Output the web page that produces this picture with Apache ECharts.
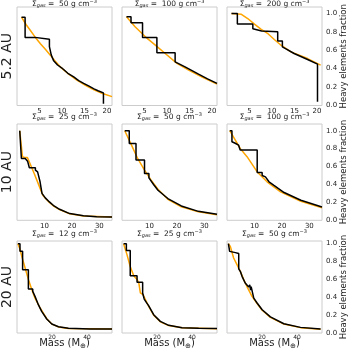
<!DOCTYPE html>
<html>
<head>
<meta charset="utf-8">
<script src="https://cdn.jsdelivr.net/npm/echarts@6/dist/echarts.min.js"></script>
<style>
  html, body { margin: 0; padding: 0; background: #fff; }
  #chart { width: 349px; height: 349px; }
</style>
</head>
<body>
<div id="chart"></div>
<script>
// rows = orbital distance, columns = gas surface density
var rowNames = ['5.2 AU', '10 AU', '20 AU'];
var sigmaGas = [[50, 100, 200], [25, 50, 100], [12, 25, 50]];
var rowXMax = [21.1, 34.6, 54.3];
var rowXStep = [5, 10, 20];
var rowYMax = [1.07, 1.075, 1.03];

// [mass, heavy elements fraction] -- black = simulation, orange = fit
var black_5_50 = [[1,0.96],[1.8,0.96],[1.8,0.74],[4.0,0.74],[4.0,0.72],[7.2,0.72],[7.2,0.64],[7.6,0.64],[7.6,0.55],[8.1,0.49],[9,0.44],[9.9,0.41],[10,0.39],[10.2,0.40],[11.3,0.35],[12.6,0.31],[13.7,0.27],[14.8,0.24],[16,0.21],[17.1,0.18],[18,0.16],[19.2,0.137],[19.2,0.02]];
var orange_5_50 = [[1,0.96],[2,0.88],[2.9,0.82],[4,0.745],[5.2,0.67],[6.3,0.61],[7.4,0.547],[8.5,0.48],[9.6,0.42],[11.5,0.34],[13.3,0.275],[15.2,0.22],[17.1,0.17],[19,0.13],[21.1,0.096]];
var black_5_100 = [[1,0.963],[2,0.963],[2,0.898],[4.56,0.898],[4.56,0.739],[7.75,0.739],[7.75,0.572],[11.8,0.572],[11.8,0.474],[14,0.42],[17,0.34],[19,0.29],[21.1,0.24]];
var orange_5_100 = [[1,0.963],[2.9,0.855],[5.2,0.746],[7.4,0.656],[9.6,0.565],[12.2,0.457],[14.8,0.384],[17.8,0.31],[21.1,0.232]];
var black_5_200 = [[1,1.0],[2.3,1.0],[2.3,0.884],[5.74,0.884],[5.74,0.833],[7.7,0.81],[11.26,0.80],[11.26,0.70],[12.3,0.70],[12.3,0.637],[12.9,0.62],[14.9,0.565],[17.9,0.50],[20.1,0.449],[20.1,0.04]];
var orange_5_200 = [[1,1.0],[3.2,0.99],[4.6,0.945],[6.1,0.884],[7.6,0.826],[9.1,0.78],[10.5,0.717],[12,0.655],[14.2,0.583],[17.9,0.51],[20.8,0.438]];

var black_10_25 = [[1,1.0],[1.6,1.0],[1.6,0.69],[3.0,0.69],[3.85,0.66],[4.5,0.66],[4.5,0.586],[6.7,0.586],[6.7,0.56],[7.5,0.54],[8.4,0.43],[9.1,0.30],[10.3,0.25],[11.8,0.205],[13.5,0.16],[15.5,0.123],[19.2,0.075],[24.2,0.05],[29,0.04],[34.6,0.037]];
var orange_10_25 = [[1,1.0],[1.5,0.85],[2,0.71],[3,0.70],[3.8,0.70],[4.5,0.65],[6.3,0.52],[8.2,0.373],[9.4,0.28],[10.5,0.24],[11.8,0.2],[13.5,0.155],[15.5,0.12],[19.2,0.072],[24.2,0.048],[34.6,0.036]];
var black_10_50 = [[1,1.0],[2.65,1.0],[2.65,0.858],[5.1,0.858],[5.1,0.672],[8.2,0.672],[8.2,0.523],[9.8,0.523],[9.8,0.474],[11.5,0.40],[13.1,0.336],[16.7,0.243],[21.6,0.16],[27.8,0.10],[34.6,0.067]];
var orange_10_50 = [[1,1.0],[3.3,0.85],[5.7,0.69],[8.2,0.56],[10.6,0.448],[13.1,0.347],[16.7,0.235],[21.6,0.15],[27.8,0.095],[34.6,0.063]];
var black_10_100 = [[1,1.0],[1.8,1.0],[1.8,0.877],[3,0.86],[4.2,0.84],[4.8,0.84],[4.8,0.784],[11,0.784],[11,0.534],[12.8,0.534],[12.8,0.50],[14,0.485],[15.3,0.43],[17.1,0.39],[20.8,0.31],[26.9,0.224],[34.6,0.149]];
var orange_10_100 = [[1,1.0],[4.85,0.80],[7.3,0.71],[11,0.54],[14.6,0.43],[19.5,0.317],[26.9,0.213],[34.6,0.14]];

var black_20_12 = [[0.5,1.0],[1.7,1.0],[1.7,0.914],[3.2,0.914],[3.2,0.709],[6.5,0.709],[6.5,0.493],[9.0,0.493],[9.0,0.466],[10.3,0.41],[12.2,0.317],[14.1,0.242],[17,0.157],[19.9,0.10],[23.7,0.07],[29.4,0.052],[41.8,0.045],[54.3,0.045]];
var orange_20_12 = [[0.5,1.0],[1.5,0.95],[2.7,0.86],[4.6,0.73],[6.5,0.6],[8.4,0.49],[10.3,0.39],[13.2,0.28],[17,0.16],[19.9,0.1],[23.7,0.068],[29.4,0.05],[54.3,0.044]];
var black_20_25 = [[0.9,1.0],[2.5,1.0],[2.5,0.925],[4.7,0.925],[4.7,0.642],[8.6,0.642],[8.6,0.567],[11.8,0.567],[11.8,0.448],[12.7,0.448],[12.7,0.38],[14,0.34],[15.2,0.306],[18.1,0.205],[21.9,0.13],[26.7,0.086],[34.3,0.06],[43.8,0.053],[54.3,0.05]];
var orange_20_25 = [[0.9,1.0],[2.8,0.88],[4.7,0.745],[6.7,0.64],[8.6,0.6],[9.6,0.56],[10.5,0.45],[12,0.43],[14,0.35],[15.2,0.3],[18.1,0.2],[21.9,0.125],[26.7,0.083],[34.3,0.058],[54.3,0.048]];
var black_20_50 = [[0.8,1.0],[1.5,1.0],[1.5,0.914],[4.8,0.9],[5.2,0.89],[6.7,0.89],[6.7,0.717],[7.6,0.69],[8.6,0.634],[10.4,0.56],[12.4,0.515],[13.0,0.54],[13.5,0.48],[13.8,0.52],[15.3,0.39],[17.2,0.336],[20.1,0.26],[24.8,0.18],[32.5,0.104],[42,0.063],[53.5,0.045]];
var orange_20_50 = [[0.8,1.0],[1.9,0.97],[3.8,0.84],[5.7,0.765],[7.6,0.69],[9.5,0.6],[11.4,0.52],[14.3,0.41],[17.2,0.33],[20.1,0.255],[24.8,0.175],[32.5,0.1],[42,0.06],[53.5,0.043]];

var blackLines = [[black_5_50, black_5_100, black_5_200], [black_10_25, black_10_50, black_10_100], [black_20_12, black_20_25, black_20_50]];
var orangeLines = [[orange_5_50, orange_5_100, orange_5_200], [orange_10_25, orange_10_50, orange_10_100], [orange_20_12, orange_20_25, orange_20_50]];

// layout in px
var colLeft = [17, 122, 227];
var colWidth = 95;
var rowTop = [7, 124, 241];
var rowHeight = [98.5, 96.3, 92];
var rowTickFont = [7, 7, 6];
var font = 'DejaVu Sans';
var ink = '#222';

var chart = echarts.init(document.getElementById('chart'));

var grids = [], xAxes = [], yAxes = [], series = [], graphics = [];

for (var r = 0; r < 3; r++) {
    for (var c = 0; c < 3; c++) {
        var idx = r * 3 + c;
        grids.push({
            left: colLeft[c], top: rowTop[r], width: colWidth, height: rowHeight[r],
            show: true, borderColor: '#cccccc', borderWidth: 1, backgroundColor: '#fff',
            containLabel: false, outerBoundsMode: 'none'
        });
        (function (step) {
            xAxes.push({
                type: 'value', gridIndex: idx, min: 0, max: rowXMax[r], interval: step,
                axisLine: { show: false }, axisTick: { show: false }, splitLine: { show: false },
                axisLabel: {
                    fontSize: rowTickFont[r], color: ink, fontFamily: font, margin: r === 2 ? 1 : 2,
                    formatter: function (v) {
                        return (v > 0 && Math.abs(v / step - Math.round(v / step)) < 1e-6) ? String(Math.round(v)) : '';
                    }
                }
            });
        })(rowXStep[r]);
        yAxes.push({
            type: 'value', gridIndex: idx, min: 0, max: rowYMax[r], interval: 0.2,
            position: c === 2 ? 'right' : 'left',
            axisLine: { show: false }, axisTick: { show: false }, splitLine: { show: false },
            axisLabel: {
                show: c === 2, fontSize: 7, color: ink, fontFamily: font, margin: 4,
                formatter: function (v) {
                    var k = Math.round(v * 5);
                    return Math.abs(v * 5 - k) < 1e-6 ? (k / 5).toFixed(1) : '';
                }
            }
        });
        series.push({
            type: 'line', xAxisIndex: idx, yAxisIndex: idx, data: orangeLines[r][c], clip: true,
            showSymbol: false, silent: true, lineStyle: { color: '#FFA500', width: 1.5 }
        });
        series.push({
            type: 'line', xAxisIndex: idx, yAxisIndex: idx, data: blackLines[r][c], clip: true,
            showSymbol: false, silent: true, lineStyle: { color: '#000', width: 1.5 }
        });

        // panel title  Σgas = N g cm^-3
        graphics.push({
            type: 'text', x: colLeft[c] + colWidth / 2, y: rowTop[r] - (r === 0 ? 3 : 7),
            style: {
                text: '{a|Σ}{s|gas}{a| =  ' + sigmaGas[r][c] + ' g cm}{p|−3}',
                align: 'center', verticalAlign: 'middle',
                rich: {
                    a: { fontSize: 7.5, fontFamily: font, fill: ink, lineHeight: 9 },
                    s: { fontSize: 5, fontFamily: font, fontStyle: 'italic', fill: ink, verticalAlign: 'bottom', lineHeight: 9 },
                    p: { fontSize: 5, fontFamily: font, fill: ink, verticalAlign: 'top', lineHeight: 9 }
                }
            }
        });

        if (r === 2) {
            graphics.push({
                type: 'text', x: colLeft[c] + colWidth / 2, y: 343,
                style: {
                    text: '{a|Mass (M}{s|⊕}{a|)}',
                    align: 'center', verticalAlign: 'middle',
                    rich: {
                        a: { fontSize: 10, fontFamily: font, fill: ink, lineHeight: 13 },
                        s: { fontSize: 7, fontFamily: font, fill: ink, verticalAlign: 'bottom', lineHeight: 13 }
                    }
                }
            });
        }
    }
    var mid = rowTop[r] + rowHeight[r] / 2;
    graphics.push({
        type: 'text', x: 7, y: mid, rotation: Math.PI / 2,
        style: { text: rowNames[r], fontSize: 14, fontFamily: font, fill: ink, align: 'center', verticalAlign: 'middle' }
    });
    graphics.push({
        type: 'text', x: 344, y: mid, rotation: Math.PI / 2,
        style: { text: 'Heavy elements fraction', fontSize: 8.5, fontFamily: font, fill: ink, align: 'center', verticalAlign: 'middle' }
    });
}

chart.setOption({
    backgroundColor: '#fff',
    animation: false,
    grid: grids,
    xAxis: xAxes,
    yAxis: yAxes,
    series: series,
    graphic: graphics
});
</script>
</body>
</html>
